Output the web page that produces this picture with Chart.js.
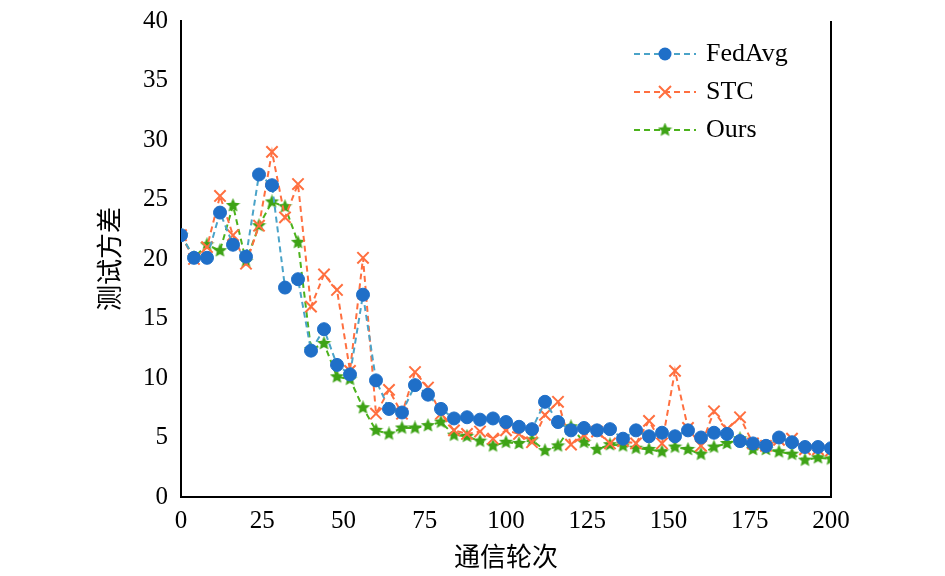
<!DOCTYPE html>
<html>
<head>
<meta charset="utf-8">
<script src="https://cdn.jsdelivr.net/npm/chart.js@4"></script>
<style>
html, body { margin: 0; background: #fff; }
#wrap { width: 945px; height: 576px; }
</style>
</head>
<body>
<div id="wrap"><canvas id="myChart" width="945" height="576"></canvas></div>
<script>
var rounds = [];
for (var r = 0; r <= 200; r += 4) rounds.push(r);

var fedavg = [22.0, 20.1, 20.1, 23.9, 21.2, 20.2, 27.1, 26.2, 17.6, 18.3, 12.3, 14.1, 11.1, 10.3, 17.0, 9.8, 7.4, 7.1, 9.4, 8.6,
    7.4, 6.6, 6.7, 6.5, 6.6, 6.3, 5.9, 5.7, 8.0, 6.3, 5.6, 5.8, 5.6, 5.7, 4.9, 5.6, 5.1, 5.4, 5.1, 5.6,
    5.0, 5.4, 5.3, 4.7, 4.5, 4.3, 5.0, 4.6, 4.2, 4.2, 4.1];
var stc = [22.0, 20.0, 21.0, 25.3, 22.0, 19.6, 22.8, 29.0, 23.5, 26.3, 16.0, 18.7, 17.4, 10.6, 20.1, 7.0, 9.0, 7.0, 10.5, 9.2,
    7.0, 5.6, 5.3, 5.5, 4.9, 5.6, 5.3, 4.6, 6.9, 8.0, 4.4, 5.2, 5.5, 4.5, 4.7, 4.5, 6.4, 4.5, 10.6, 5.8,
    4.3, 7.2, 5.7, 6.7, 4.5, 4.3, 4.8, 4.9, 4.0, 4.0, 3.9];
var ours = [22.0, 20.1, 21.2, 20.7, 24.5, 19.8, 22.8, 24.8, 24.4, 21.4, 12.4, 12.9, 10.1, 9.9, 7.5, 5.6, 5.3, 5.8, 5.8, 6.0,
    6.3, 5.2, 5.1, 4.7, 4.3, 4.6, 4.5, 4.8, 3.9, 4.3, 5.9, 4.6, 4.0, 4.4, 4.3, 4.1, 4.0, 3.8, 4.2, 4.0,
    3.6, 4.2, 4.5, 4.9, 4.0, 4.0, 3.8, 3.6, 3.1, 3.3, 3.2];
var xTicks = [0, 25, 50, 75, 100, 125, 150, 175, 200];

function toXY(arr) {
    return arr.map(function (v, i) { return { x: rounds[i], y: v }; });
}

// filled star for the "Ours" markers
function makeStar(size, color) {
    var c = document.createElement('canvas');
    c.width = size; c.height = size;
    var g = c.getContext('2d');
    var cx = size / 2, cy = size / 2, ro = size / 2, ri = ro * 0.45;
    g.beginPath();
    for (var k = 0; k < 10; k++) {
        var rr = k % 2 ? ri : ro;
        var a = -Math.PI / 2 + k * Math.PI / 5;
        g.lineTo(cx + rr * Math.cos(a), cy + rr * Math.sin(a));
    }
    g.closePath();
    g.fillStyle = color;
    g.fill();
    return c;
}
var star = makeStar(15, '#3ea316');

var series = [
    { label: 'FedAvg', data: toXY(fedavg), borderColor: '#4aa3c8', pointBackgroundColor: '#1f6fc8', pointBorderColor: '#1f6fc8', pointStyle: 'circle', pointRadius: 6.5 },
    { label: 'STC', data: toXY(stc), borderColor: '#ff6f3f', pointBackgroundColor: '#ff6f3f', pointBorderColor: '#ff6f3f', pointStyle: 'crossRot', pointRadius: 8, pointBorderWidth: 2 },
    { label: 'Ours', data: toXY(ours), borderColor: '#4cb21c', pointBackgroundColor: '#3ea316', pointBorderColor: '#3ea316', pointStyle: star, pointRadius: 7 }
];
series.forEach(function (s) {
    s.borderWidth = 2;
    s.borderDash = [6, 4];
    s.tension = 0;
    s.pointBorderWidth = s.pointBorderWidth || 1;
});

var frame = {
    id: 'frame',
    afterDraw: function (chart) {
        var a = chart.chartArea, g = chart.ctx;
        g.save();
        g.strokeStyle = '#000';
        g.lineWidth = 2;
        g.beginPath();
        g.moveTo(a.right, a.top);
        g.lineTo(a.right, a.bottom);
        g.stroke();
        // legend: dashed line with marker, then label
        var lx = 634, ly = 54, step = 38;
        g.font = '26px "Liberation Serif"';
        g.textBaseline = 'middle';
        chart.data.datasets.forEach(function (d, i) {
            var y = ly + i * step;
            g.setLineDash([6, 4]);
            g.strokeStyle = d.borderColor;
            g.lineWidth = 2;
            g.beginPath();
            g.moveTo(lx, y); g.lineTo(lx + 62, y);
            g.stroke();
            g.setLineDash([]);
            var mx = lx + 31;
            if (i === 0) {
                g.fillStyle = d.pointBackgroundColor;
                g.beginPath(); g.arc(mx, y, 6.5, 0, Math.PI * 2); g.fill();
            } else if (i === 1) {
                g.strokeStyle = d.pointBorderColor;
                g.beginPath();
                g.moveTo(mx - 6, y - 6); g.lineTo(mx + 6, y + 6);
                g.moveTo(mx + 6, y - 6); g.lineTo(mx - 6, y + 6);
                g.stroke();
            } else {
                g.drawImage(star, mx - 7.5, y - 7.5);
            }
            g.fillStyle = '#000';
            g.fillText(d.label, lx + 72, y);
        });
        g.restore();
    }
};

const ctx = document.getElementById('myChart');

let chart = new Chart(ctx, {
    type: 'line',
    data: { datasets: series },
    options: {
        responsive: false,
        animation: false,
        layout: { padding: { top: 18, right: 114, bottom: 0, left: 90 } },
        plugins: { legend: { display: false }, tooltip: { enabled: false } },
        scales: {
            x: {
                type: 'linear', min: 0, max: 200,
                afterBuildTicks: function (ax) { ax.ticks = xTicks.map(function (v) { return { value: v }; }); },
                grid: { display: false, drawTicks: true, tickLength: 7, tickColor: '#000' },
                border: { color: '#000', width: 2 },
                ticks: { color: '#000', font: { family: 'Liberation Serif', size: 25 }, maxRotation: 0, padding: 2 },
                title: { display: true, text: '通信轮次', color: '#000', font: { family: 'Noto Sans CJK SC', size: 26 }, padding: { top: 2 } },
                afterFit: function (ax) { ax.height = 79; }
            },
            y: {
                min: 0, max: 40,
                ticks: { stepSize: 5, color: '#000', font: { family: 'Liberation Serif', size: 25 }, padding: 6 },
                grid: { display: false, drawTicks: true, tickLength: 7, tickColor: '#000' },
                border: { color: '#000', width: 2 },
                title: { display: true, text: '测试方差', color: '#000', font: { family: 'Noto Sans CJK SC', size: 26 } },
                afterFit: function (ax) { ax.width = 91; }
            }
        }
    },
    plugins: [frame]
});
</script>
</body>
</html>
